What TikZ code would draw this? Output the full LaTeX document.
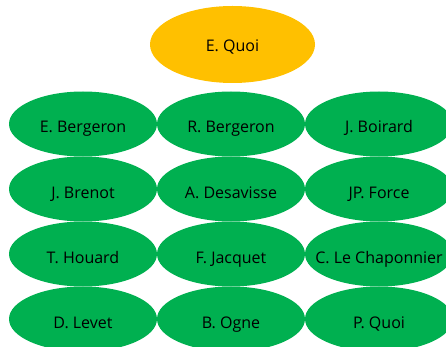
\documentclass[tikz,border=0pt]{standalone}
\usepackage{fontspec}
\setmainfont{Open Sans}
\usetikzlibrary{shapes.geometric}
\definecolor{boss}{HTML}{FFC000}
\definecolor{staff}{HTML}{00B050}

\begin{document}
\begin{tikzpicture}[x=1pt, y=-1pt,
  person/.style={ellipse, fill=staff, inner sep=0pt, minimum width=148pt,
    minimum height=65pt, text height=18pt, text depth=0pt,
    font=\fontsize{16}{18}\selectfont},
  chief/.style={person, fill=boss, minimum width=165pt, minimum height=77pt,
    text height=14pt}]
  \def\xsep{148}
  \def\ysep{65}
  \def\xo{83}
  \def\yo{124}

  \useasboundingbox (0,0) rectangle (446,347);
  \clip (0,0) rectangle (446,347);

  \node[chief] (eq) at (232.5,44.5) {E. Quoi};

  \node[person] (ebe) at ({\xo+0*\xsep}, {\yo+0*\ysep}) {E. Bergeron};
  \node[person] (rbe) at ({\xo+1*\xsep}, {\yo+0*\ysep}) {R. Bergeron};
  \node[person] (jbo) at ({\xo+2*\xsep}, {\yo+0*\ysep}) {J. Boirard};

  \node[person] (jbr) at ({\xo+0*\xsep}, {\yo+1*\ysep}) {J. Brenot};
  \node[person] (ade) at ({\xo+1*\xsep}, {\yo+1*\ysep}) {A. Desavisse};
  \node[person] (jpf) at ({\xo+2*\xsep}, {\yo+1*\ysep}) {JP. Force};

  \node[person] (tho) at ({\xo+0*\xsep}, {\yo+2*\ysep}) {T. Houard};
  \node[person] (fja) at ({\xo+1*\xsep}, {\yo+2*\ysep}) {F. Jacquet};
  \node[person] (clc) at ({\xo+2*\xsep}, {\yo+2*\ysep}) {\makebox[0pt]{C. Le Chaponnier}};

  \node[person] (dle) at ({\xo+0*\xsep}, {\yo+3*\ysep}) {D. Levet};
  \node[person] (bog) at ({\xo+1*\xsep}, {\yo+3*\ysep}) {B. Ogne};
  \node[person] (pqu) at ({\xo+2*\xsep}, {\yo+3*\ysep}) {P. Quoi};
\end{tikzpicture}
\end{document}
